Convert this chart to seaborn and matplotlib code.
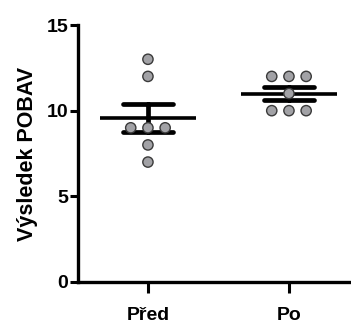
import matplotlib
matplotlib.use("Agg")
import matplotlib.pyplot as plt
import seaborn as sns
import pandas as pd

categories = ["Před", "Po"]
pred_values = [13, 12, 9, 9, 9, 8, 7]
po_values = [12, 12, 12, 11, 10, 10, 10]
y_ticks = [0, 5, 10, 15]
y_label = "Výsledek POBAV"

df = pd.DataFrame({
    "group": [categories[0]] * len(pred_values) + [categories[1]] * len(po_values),
    "score": pred_values + po_values,
})

sns.set_style("ticks")
plt.rcParams["font.family"] = ["Liberation Sans", "DejaVu Sans"]
plt.rcParams["font.weight"] = "bold"
plt.rcParams["text.color"] = "black"
plt.rcParams["axes.labelcolor"] = "black"
plt.rcParams["xtick.color"] = "black"
plt.rcParams["ytick.color"] = "black"
plt.rcParams["axes.edgecolor"] = "black"

fig = plt.figure(figsize=(3.51, 3.24), dpi=100)
ax = fig.add_axes([78 / 351, 42 / 324, 1 - 78 / 351, 257 / 324])

sns.pointplot(data=df, x="group", y="score", order=categories, errorbar="se",
              linestyle="none", marker="_", markersize=69, markeredgewidth=2.6,
              color="black", capsize=0.36, err_kws={"linewidth": 3.4}, ax=ax, zorder=2)

sns.swarmplot(data=df, x="group", y="score", order=categories, size=10.8,
              color="#a2a2a6", edgecolor="#3a3a3a", linewidth=1.0, ax=ax, zorder=3)

ax.set_ylim(0, 15)
ax.set_xlim(-0.496, 1.44)
ax.set_yticks(y_ticks)
ax.set_ylabel(y_label, fontsize=15.5, fontweight="bold", labelpad=6, color="black")
ax.set_xlabel("")
ax.tick_params(axis="y", labelsize=14, width=2.2, length=6, pad=1, colors="black")
ax.tick_params(axis="x", labelsize=14, width=2.2, length=8, pad=10, colors="black")
for lbl in ax.get_xticklabels() + ax.get_yticklabels():
    lbl.set_fontweight("bold")
for s in ["left", "bottom"]:
    ax.spines[s].set_linewidth(2.4)
    ax.spines[s].set_color("black")
ax.spines["top"].set_visible(False)
ax.spines["right"].set_visible(False)

# compute swarm layout with wide spacing, then shrink markers keeping positions
fig.canvas.draw()
for coll in ax.collections:
    if "draw" in coll.__dict__:
        del coll.draw
        coll.set_sizes([7.4 ** 2] * len(coll.get_offsets()))

fig.savefig("out.png", dpi=100)
